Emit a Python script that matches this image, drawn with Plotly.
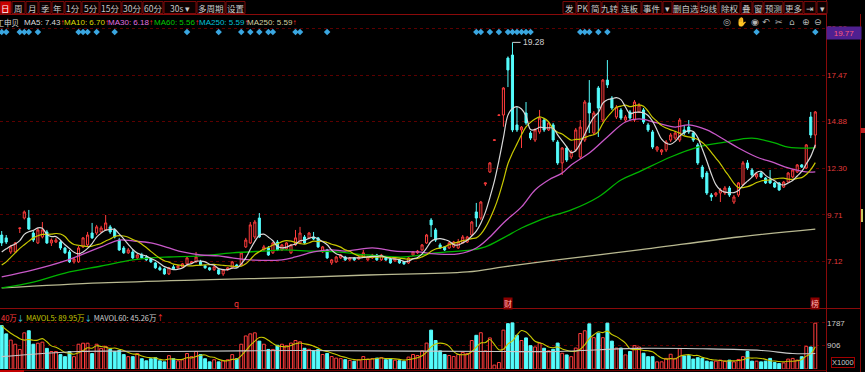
import plotly.graph_objects as go
import pandas as pd

# ---------------- data ----------------
opens = [8.59, 8.43, 7.65, 7.65, 8.95, 9.53, 9.53, 8.70, 8.15, 8.48,
         8.76, 8.15, 8.20, 8.20, 7.87, 7.65, 7.10, 7.10, 7.93, 8.04,
         8.70, 8.70, 8.76, 8.87, 9.04, 8.87, 8.31, 7.87, 7.60, 7.65,
         7.32, 7.48, 7.37, 7.26, 7.04, 6.77, 6.71, 6.43, 6.82, 6.77,
         6.82, 6.99, 7.04, 7.10, 7.10, 6.88, 6.77, 6.66, 6.66, 6.43,
         6.66, 6.77, 6.93, 6.93, 7.93, 8.15, 8.48, 9.53, 7.76, 7.87,
         7.60, 8.20, 7.76, 7.82, 7.60, 8.04, 8.15, 8.48, 8.43, 8.48,
         8.43, 7.65, 7.76, 7.04, 7.10, 7.32, 7.37, 7.21, 7.32, 7.26,
         7.37, 7.21, 7.32, 7.48, 7.21, 7.32, 7.26, 7.15, 7.21, 7.10,
         7.04, 7.48, 7.60, 7.76, 8.15, 9.42, 8.87, 8.04, 7.93, 7.87,
         7.93, 7.87, 8.15, 8.20, 8.59, 9.87, 9.53, 11.42, 12.09, 13.84,
         15.23, 15.25, 18.41, 18.58, 14.70, 14.42, 15.36, 14.25, 13.86, 14.31,
         14.97, 14.42, 14.70, 13.75, 12.59, 13.42, 12.92, 13.31, 12.92, 13.86,
         15.92, 14.25, 16.75, 14.97, 17.19, 16.19, 15.14, 15.53, 14.97, 15.42,
         14.97, 15.42, 15.53, 14.70, 14.31, 13.31, 13.20, 13.31, 13.86, 13.97,
         13.86, 14.42, 14.58, 14.25, 13.59, 12.36, 12.03, 10.81, 10.81, 10.92,
         10.92, 11.20, 10.42, 10.81, 11.37, 12.59, 12.20, 11.81, 12.03, 11.75,
         11.64, 11.48, 11.48, 11.25, 11.53, 11.81, 12.09, 12.48, 12.31, 15.14,
         14.14]
highs = [8.81, 8.59, 8.04, 8.20, 8.98, 9.95, 9.98, 8.81, 8.98, 9.31,
         8.87, 8.40, 8.43, 8.31, 7.93, 7.76, 7.32, 7.98, 8.48, 8.76,
         9.26, 9.15, 9.10, 9.70, 9.15, 8.98, 8.43, 7.98, 7.87, 7.76,
         7.54, 7.60, 7.48, 7.32, 7.10, 6.88, 6.77, 6.82, 6.93, 6.93,
         7.04, 7.37, 7.15, 7.65, 7.21, 6.93, 6.82, 6.88, 6.71, 6.71,
         6.82, 7.15, 6.99, 7.65, 8.43, 9.31, 9.42, 9.81, 8.04, 7.98,
         8.20, 8.31, 8.09, 8.20, 8.09, 8.87, 9.04, 8.59, 8.76, 8.76,
         8.48, 7.98, 7.82, 7.26, 7.43, 7.54, 7.43, 7.37, 7.37, 7.43,
         7.76, 7.43, 7.54, 7.54, 7.54, 7.37, 7.32, 7.37, 7.26, 7.15,
         7.37, 7.70, 7.76, 8.09, 8.65, 9.53, 8.98, 8.15, 7.98, 8.20,
         8.26, 8.37, 8.59, 8.54, 9.37, 10.37, 10.48, 11.48, 12.64, 13.87,
         15.25, 16.80, 18.50, 19.28, 15.69, 14.64, 15.97, 14.36, 14.53, 15.53,
         15.08, 14.92, 14.81, 13.86, 13.47, 13.53, 13.31, 14.53, 14.97, 16.08,
         17.19, 15.47, 16.86, 17.25, 18.30, 16.30, 15.80, 15.64, 15.25, 15.53,
         16.08, 15.92, 15.64, 14.81, 14.42, 13.53, 13.36, 13.86, 14.25, 14.36,
         15.08, 14.70, 14.97, 14.36, 13.70, 12.48, 12.14, 10.92, 10.98, 11.20,
         11.31, 11.31, 10.81, 11.53, 12.70, 12.75, 12.31, 12.03, 12.09, 11.81,
         12.20, 11.53, 11.53, 11.59, 12.09, 12.25, 12.53, 12.53, 13.64, 15.42,
         15.47]
lows = [7.98, 8.09, 7.54, 7.60, 8.70, 9.45, 8.87, 8.20, 8.09, 8.40,
        8.09, 7.98, 8.15, 7.76, 7.54, 7.04, 7.00, 7.04, 7.87, 7.98,
        8.37, 8.59, 8.70, 8.81, 8.65, 8.40, 7.70, 7.54, 7.54, 7.26,
        7.26, 7.26, 7.15, 7.04, 6.71, 6.60, 6.38, 6.37, 6.66, 6.71,
        6.77, 6.93, 6.99, 7.04, 6.88, 6.71, 6.60, 6.60, 6.38, 6.32,
        6.60, 6.71, 6.77, 6.88, 7.87, 8.09, 8.37, 8.43, 7.70, 7.43,
        7.54, 7.70, 7.70, 7.76, 7.54, 7.98, 8.09, 8.09, 8.37, 8.31,
        7.87, 7.60, 7.26, 6.93, 7.04, 7.26, 7.15, 7.15, 7.15, 7.21,
        7.32, 7.15, 7.26, 7.15, 7.15, 7.15, 6.99, 7.10, 6.99, 6.93,
        6.99, 7.43, 7.54, 7.70, 8.09, 8.48, 8.20, 7.82, 7.70, 7.82,
        7.87, 7.82, 8.09, 8.15, 8.54, 9.04, 9.42, 11.31, 12.03, 13.84,
        15.23, 14.60, 16.80, 14.30, 14.31, 13.42, 14.70, 13.86, 13.75, 14.20,
        14.31, 14.36, 13.75, 12.48, 11.92, 12.64, 12.81, 13.20, 12.81, 13.75,
        14.25, 14.14, 14.03, 14.86, 16.75, 15.53, 15.03, 14.97, 14.86, 14.97,
        14.86, 15.36, 14.75, 14.31, 13.36, 13.20, 13.03, 13.20, 13.75, 13.86,
        13.75, 14.14, 14.20, 13.75, 12.48, 11.70, 10.81, 10.48, 10.70, 10.42,
        10.81, 10.70, 10.31, 10.70, 11.31, 12.20, 11.81, 11.70, 11.75, 11.42,
        11.42, 11.20, 11.03, 11.20, 11.48, 11.75, 12.03, 12.31, 12.25, 13.97,
        13.42]
closes = [8.15, 8.20, 7.93, 8.15, 8.98, 9.87, 8.92, 8.31, 8.87, 8.87,
          8.15, 8.31, 8.31, 7.87, 7.60, 7.10, 7.26, 7.87, 8.43, 8.59,
          8.43, 9.04, 8.98, 9.26, 8.76, 8.48, 7.76, 7.60, 7.76, 7.32,
          7.48, 7.32, 7.21, 7.10, 6.77, 6.66, 6.43, 6.77, 6.71, 6.88,
          6.99, 7.32, 7.10, 7.37, 6.93, 6.77, 6.66, 6.82, 6.43, 6.66,
          6.77, 7.10, 6.82, 7.60, 8.31, 9.15, 9.31, 8.48, 7.93, 7.48,
          8.15, 7.76, 8.04, 8.15, 8.04, 8.43, 8.70, 8.15, 8.70, 8.37,
          7.93, 7.93, 7.32, 7.21, 7.37, 7.48, 7.21, 7.32, 7.21, 7.37,
          7.60, 7.37, 7.48, 7.21, 7.48, 7.21, 7.04, 7.32, 7.04, 6.99,
          7.32, 7.65, 7.70, 8.04, 8.59, 9.15, 8.31, 7.87, 7.76, 8.15,
          8.20, 8.20, 8.48, 8.48, 9.31, 9.53, 10.42, 11.48, 12.59, 13.87,
          15.25, 16.75, 17.75, 14.42, 14.42, 14.58, 14.81, 13.97, 14.42, 15.08,
          14.42, 14.81, 13.86, 12.59, 13.42, 12.75, 13.20, 14.42, 14.58, 15.97,
          15.36, 15.36, 15.64, 17.19, 16.92, 15.64, 15.69, 15.08, 15.14, 15.08,
          15.97, 15.80, 14.86, 14.42, 13.47, 13.47, 13.31, 13.75, 14.14, 14.25,
          14.97, 14.25, 14.31, 13.86, 12.59, 11.81, 10.92, 10.70, 10.92, 11.09,
          11.20, 10.81, 10.70, 11.48, 12.59, 12.31, 11.92, 11.98, 11.81, 11.48,
          11.48, 11.25, 11.09, 11.53, 12.03, 12.20, 12.48, 12.36, 13.59, 14.14,
          15.42]
volumes = [1676, 1356, 1116, 956, 756, 1396, 1476, 956, 996, 1036,
           796, 676, 676, 556, 476, 676, 476, 956, 996, 996,
           596, 956, 796, 876, 756, 676, 716, 556, 476, 476,
           596, 396, 316, 396, 436, 316, 276, 516, 396, 316,
           356, 596, 476, 676, 556, 396, 276, 356, 276, 316,
           356, 556, 396, 956, 1276, 1356, 1396, 1076, 956, 756,
           756, 916, 956, 900, 1000, 1100, 1050, 800, 760, 700,
           750, 560, 600, 480, 420, 400, 360, 330, 300, 360,
           480, 380, 400, 420, 440, 360, 400, 340, 320, 300,
           460, 560, 520, 700, 1000, 1500, 1100, 700, 560, 520,
           480, 560, 640, 600, 1100, 1300, 1400, 700, 1200, 150,
           250, 1500, 1750, 1780, 1300, 1100, 1200, 900, 850, 1000,
           800, 700, 760, 1000, 609, 543, 476, 809, 1369, 1476,
           1743, 1209, 1383, 1209, 1769, 1076, 809, 809, 543, 676,
           903, 849, 609, 476, 476, 276, 276, 409, 569, 409,
           783, 503, 516, 383, 436, 409, 303, 276, 303, 343,
           303, 343, 276, 369, 476, 676, 303, 303, 276, 303,
           409, 249, 209, 236, 383, 409, 343, 476, 876, 849,
           1769]

# moving-average lines where the history before the window is not on screen
ma5_head = [7.65, 7.82, 7.98, 8.09]
ma10_head = [6.93, 7.10, 7.35, 7.60, 7.85, 8.05, 8.25, 8.43, 8.55]
ma30_idx = [0, 7, 14, 22, 26, 29, 33, 37, 40, 44, 48, 51, 55, 62, 65, 69, 73, 76,
            82, 87, 92, 96, 101, 105, 108, 111, 115, 118, 121, 124, 126, 130, 134,
            138, 141, 145, 149, 152, 156, 160, 163, 167, 171, 174, 178, 180]
ma30_val = [6.26, 6.65, 7.15, 7.93, 8.31, 8.26, 8.15, 7.87, 7.65, 7.48, 7.43, 7.32,
            7.21, 7.21, 7.37, 7.65, 7.76, 7.70, 7.87, 7.70, 7.65, 7.54, 7.54, 7.87,
            8.48, 9.26, 10.15, 11.09, 11.64, 12.03, 12.48, 13.14, 14.03, 14.86,
            15.03, 14.81, 14.58, 14.70, 14.42, 13.86, 13.42, 12.92, 12.59, 12.31,
            12.09, 12.09]
ma60_idx = [0, 7, 14, 22, 29, 33, 37, 44, 51, 59, 62, 67, 74, 81, 89, 96, 104, 107,
            111, 115, 118, 121, 126, 132, 137, 141, 148, 154, 160, 166, 171, 174, 180]
ma60_val = [5.65, 5.98, 6.48, 6.87, 7.21, 7.32, 7.37, 7.43, 7.60, 7.71, 7.76, 7.71,
            7.65, 7.48, 7.37, 7.60, 7.76, 7.93, 8.43, 8.98, 9.31, 9.59, 9.98, 10.70,
            11.64, 12.09, 12.92, 13.47, 13.75, 13.97, 13.70, 13.47, 13.42]
ma250_idx = [0, 22, 44, 62, 81, 103, 111, 121, 141, 163, 180]
ma250_val = [5.65, 5.93, 6.10, 6.21, 6.37, 6.54, 6.82, 7.15, 7.76, 8.48, 8.92]
mavol60_idx = [0, 17, 37, 66, 90, 110, 123, 140, 155, 168, 175, 180]
mavol60_val = [476, 676, 676, 716, 690, 676, 676, 796, 780, 716, 596, 596]

signal_idx = [0, 1, 4, 5, 6, 8, 17, 18, 19, 21, 25, 41, 48, 53, 55, 57, 59, 60, 65,
              66, 72, 105, 106, 108, 110, 112, 113, 114, 115, 116, 117, 128, 129, 130,
              132, 134, 167, 180]
events = [(52, "q", False), (112, "财", True), (180, "榜", True)]

price_ticks = [7.12, 9.71, 12.30, 14.88, 17.47, 20.06]
vol_ticks = [906, 1787]

legend_items = [("MA5: 7.43", "#dcdcdc"), ("MA10: 6.70", "#dcdc00"),
                ("MA30: 6.18", "#e070e0"), ("MA60: 5.56", "#00c800"),
                ("MA250: 5.59", "#00c0d8"), ("MA250: 5.59", "#d0d0a0")]
vol_header = [("40万", "#ff3c3c", "↓"), ("MAVOL5: 89.95万", "#c8c800", "↓"),
              ("MAVOL60: 45.26万", "#d0d0d0", "↑")]
stock_name = "上工申贝"
left_buttons = ["日", "周", "月", "季", "年", "1分", "5分", "15分", "30分", "60分",
                "30s ▾", "多周期", "设置"]
right_buttons = ["发", "PK", "简", "九转", "连板", "事件", "▾", "删自选", "均线",
                 "除权", "叠", "窗", "预测", "更多", "⇥", "▾"]
tool_icons = ["◎", "✋", "◉", "↶", "✂", "⌂", "⊕", "⊖"]

# ---------------- layout geometry ----------------
W, H = 865, 372
FONT = "Liberation Sans, Arial, Noto Sans CJK SC"
CJK = "Noto Sans CJK SC, Liberation Sans"
RED = "#ff3c3c"
CYAN = "#54fcfc"
GRID = "#5c0000"
FRAME = "#8a0a0a"
ARROW_COL = {"↑": "#ff3030", "↓": "#40d8f0"}


def px(x):
    return x / W


def py(y):
    return 1 - y / H


X0, DX = 1.7, 4.52            # pixel of first candle, pixels per candle
REF_Y, REF_P, PPU = 75.0, 17.47, 18.018


def price_at(ypx):
    return REF_P - (ypx - REF_Y) / PPU


MAIN_TOP, MAIN_BOT = 16, 308
VOL_TOP, VOL_BOT, VOL_PER_PX = 311, 369, 38.6
PLOT_RIGHT = 826

n = len(closes)
xs = list(range(n))

s = pd.Series(closes)
ma5 = s.rolling(5).mean().tolist()
ma10 = s.rolling(10).mean().tolist()
for i, v in enumerate(ma5_head):
    ma5[i] = v
for i, v in enumerate(ma10_head):
    ma10[i] = v
mavol5 = pd.Series(volumes).rolling(5, min_periods=1).mean().tolist()

up = [c >= o for o, c in zip(opens, closes)]

fig = go.Figure()

fig.add_trace(go.Candlestick(
    x=xs, open=opens, high=highs, low=lows, close=closes,
    increasing=dict(line=dict(color=RED, width=1), fillcolor="#000000"),
    decreasing=dict(line=dict(color=CYAN, width=1), fillcolor=CYAN),
    whiskerwidth=0, xaxis="x", yaxis="y", hoverinfo="skip"))

fig.add_trace(go.Scatter(x=ma250_idx, y=ma250_val, mode="lines",
                         line=dict(color="#b8b890", width=1.3, shape="spline"),
                         xaxis="x", yaxis="y"))
fig.add_trace(go.Scatter(x=ma60_idx, y=ma60_val, mode="lines",
                         line=dict(color="#00b400", width=1.3, shape="spline"),
                         xaxis="x", yaxis="y"))
fig.add_trace(go.Scatter(x=ma30_idx, y=ma30_val, mode="lines",
                         line=dict(color="#c858c8", width=1.3, shape="spline"),
                         xaxis="x", yaxis="y"))
fig.add_trace(go.Scatter(x=xs, y=ma10, mode="lines",
                         line=dict(color="#c8c800", width=1.2, shape="spline"),
                         xaxis="x", yaxis="y"))
fig.add_trace(go.Scatter(x=xs, y=ma5, mode="lines",
                         line=dict(color="#d8d8d8", width=1.2, shape="spline"),
                         xaxis="x", yaxis="y"))

# signal diamonds row
fig.add_trace(go.Scatter(x=signal_idx, y=[price_at(32)] * len(signal_idx), mode="markers",
                         marker=dict(symbol="diamond", size=5, color="#3aa6e0"),
                         xaxis="x", yaxis="y"))

# volume
fig.add_trace(go.Bar(
    x=xs, y=volumes, width=0.64,
    marker=dict(color=["#000000" if u else CYAN for u in up],
                line=dict(color=[RED if u else CYAN for u in up], width=1)),
    xaxis="x2", yaxis="y2", hoverinfo="skip"))
fig.add_trace(go.Scatter(x=xs, y=mavol5, mode="lines",
                         line=dict(color="#c8c800", width=1.1, shape="spline"),
                         xaxis="x2", yaxis="y2"))
fig.add_trace(go.Scatter(x=mavol60_idx, y=mavol60_val, mode="lines",
                         line=dict(color="#c8c8c8", width=1.1, shape="spline"),
                         xaxis="x2", yaxis="y2"))

# max label
imax = max(range(n), key=lambda i: highs[i])
hmax = highs[imax]

shapes = []
annotations = []

shapes.append(dict(type="line", xref="x", yref="y", x0=imax, x1=imax + 1.8,
                   y0=hmax, y1=hmax, line=dict(color="#cfcfcf", width=1)))
annotations.append(dict(xref="x", yref="y", x=imax + 1.9, y=hmax, text=f"{hmax:.2f}",
                        showarrow=False, xanchor="left", yanchor="middle",
                        font=dict(family=FONT, size=8.5, color="#cfcfcf")))

# frame lines
shapes.append(dict(type="line", xref="paper", yref="paper", x0=px(826.5), x1=px(826.5),
                   y0=0, y1=1, line=dict(color=FRAME, width=1)))
shapes.append(dict(type="line", xref="paper", yref="paper", x0=px(860.5), x1=px(860.5),
                   y0=0, y1=py(14), line=dict(color=FRAME, width=1)))
shapes.append(dict(type="line", xref="paper", yref="paper", x0=0, x1=px(826.5),
                   y0=py(14.5), y1=py(14.5), line=dict(color=FRAME, width=1)))
shapes.append(dict(type="line", xref="paper", yref="paper", x0=0, x1=px(860),
                   y0=py(308.5), y1=py(308.5), line=dict(color=FRAME, width=1)))
shapes.append(dict(type="line", xref="paper", yref="paper", x0=0, x1=px(826.5),
                   y0=py(370.5), y1=py(370.5), line=dict(color="#6a0000", width=1)))
shapes.append(dict(type="rect", xref="paper", yref="paper", x0=0, x1=px(24),
                   y0=0, y1=py(370), fillcolor="#c00000", line=dict(width=0)))
# right edge fragments
shapes.append(dict(type="rect", xref="paper", yref="paper", x0=px(861), x1=px(865),
                   y0=py(133), y1=py(128), fillcolor="#c02020", line=dict(width=0)))
shapes.append(dict(type="rect", xref="paper", yref="paper", x0=px(861), x1=px(863),
                   y0=py(222), y1=py(209), fillcolor="#c8c860", line=dict(width=0)))


def add_buttons(labels, start_x, widths):
    x = start_x
    for lab, w in zip(labels, widths):
        active = lab == "日"
        shapes.append(dict(type="rect", xref="paper", yref="paper",
                           x0=px(x), x1=px(x + w), y0=py(13.5), y1=py(1.5),
                           fillcolor="#c80000" if active else "#0c0000",
                           line=dict(color="#7a0a0a", width=1)))
        annotations.append(dict(xref="paper", yref="paper", x=px(x + w / 2), y=py(7.8),
                                text=lab, showarrow=False, xanchor="center",
                                yanchor="middle",
                                font=dict(family=CJK, size=8.5,
                                          color="#ffffff" if active else "#c8c8c8")))
        x += w + 1


add_buttons(left_buttons, 0, [11, 13, 12, 12, 12, 16, 17, 21, 20, 20, 32, 28, 19])
add_buttons(right_buttons, 563, [13, 11, 12, 15, 23, 20, 9, 25, 19, 21, 11, 10, 19, 19, 12, 10])

# tool icons
for i, ic in enumerate(tool_icons):
    xpos = [727, 741, 755, 766, 779, 792, 806, 818][i]
    annotations.append(dict(xref="paper", yref="paper", x=px(xpos), y=py(22), text=ic,
                            showarrow=False, xanchor="center", yanchor="middle",
                            font=dict(family="DejaVu Sans", size=9, color="#b4b4b4")))

# legend row
annotations.append(dict(xref="paper", yref="paper", x=px(20.5), y=py(23), text=stock_name,
                        showarrow=False, xanchor="right", yanchor="middle",
                        font=dict(family=CJK, size=7.5, color="#dcdcdc")))
for (lab, col), xpos in zip(legend_items, [22, 62, 106, 152, 197, 245]):
    annotations.append(dict(xref="paper", yref="paper", x=px(xpos), y=py(23),
                            text=f"{lab}<span style='color:#ff3030'>↑</span>",
                            showarrow=False, xanchor="left", yanchor="middle",
                            font=dict(family=FONT, size=8, color=col)))

# current price box
annotations.append(dict(xref="paper", yref="paper", x=px(844), y=py(33), text="19.77",
                        showarrow=False, xanchor="center", yanchor="middle",
                        width=32, height=10, bgcolor="#4f2090",
                        font=dict(family=FONT, size=8, color="#ff5a7a")))
annotations.append(dict(xref="paper", yref="paper", x=px(843), y=py(362), text="X1000",
                        showarrow=False, xanchor="center", yanchor="middle",
                        bordercolor="#a00000", borderwidth=1, borderpad=0,
                        font=dict(family=FONT, size=7.5, color="#c8c8c8")))

# volume header (one line, coloured pieces)
vh_text = " ".join(
    f"<span style='color:{col}'>{txt}</span><span style='color:{ARROW_COL[arr]}'>{arr}</span>"
    for txt, col, arr in vol_header)
annotations.append(dict(xref="paper", yref="paper", x=0, y=py(317.5), text=vh_text,
                        showarrow=False, xanchor="left", yanchor="middle", borderpad=0,
                        font=dict(family=CJK, size=7.5, color="#d0d0d0")))

# event markers
for idx, txt, boxed in events:
    a = dict(xref="x", yref="paper", x=idx, y=py(303), text=txt, showarrow=False,
             xanchor="center", yanchor="middle",
             font=dict(family=CJK, size=8, color="#ffb0b0" if boxed else RED))
    if boxed:
        a.update(bgcolor="#8a0000", borderpad=0)
    annotations.append(a)

x_range = [(0 - X0) / DX, (PLOT_RIGHT - X0) / DX]

fig.update_layout(
    width=W, height=H, margin=dict(l=0, r=0, t=0, b=0),
    paper_bgcolor="#000000", plot_bgcolor="#000000",
    showlegend=False, boxgap=0.34,
    shapes=shapes, annotations=annotations,
    xaxis=dict(domain=[0, px(PLOT_RIGHT)], range=x_range, showticklabels=False,
               showgrid=False, zeroline=False, rangeslider=dict(visible=False),
               fixedrange=True),
    yaxis=dict(domain=[py(MAIN_BOT), py(MAIN_TOP)],
               range=[price_at(MAIN_BOT), price_at(MAIN_TOP)],
               side="right", tickvals=price_ticks,
               ticktext=[f"{v:.2f}" for v in price_ticks],
               tickfont=dict(family=FONT, size=8, color="#e03a3a"),
               showgrid=True, gridcolor=GRID, griddash="dot", gridwidth=1,
               zeroline=False, ticks="", showline=False),
    xaxis2=dict(domain=[0, px(PLOT_RIGHT)], range=x_range, anchor="y2",
                showticklabels=False, showgrid=False, zeroline=False),
    yaxis2=dict(domain=[py(VOL_BOT), py(VOL_TOP)],
                range=[0, (VOL_BOT - VOL_TOP) * VOL_PER_PX], anchor="x2",
                side="right", tickvals=vol_ticks, ticktext=[str(v) for v in vol_ticks],
                tickfont=dict(family=FONT, size=8, color="#c8c8c8"),
                showgrid=True, gridcolor=GRID, griddash="dot", gridwidth=1,
                zeroline=False, ticks=""),
)

fig.write_html("out.html", config={"displayModeBar": False},
               post_script="document.body.style.margin='0';"
                           "document.body.style.overflow='hidden';"
                           "document.body.style.background='#000';")
